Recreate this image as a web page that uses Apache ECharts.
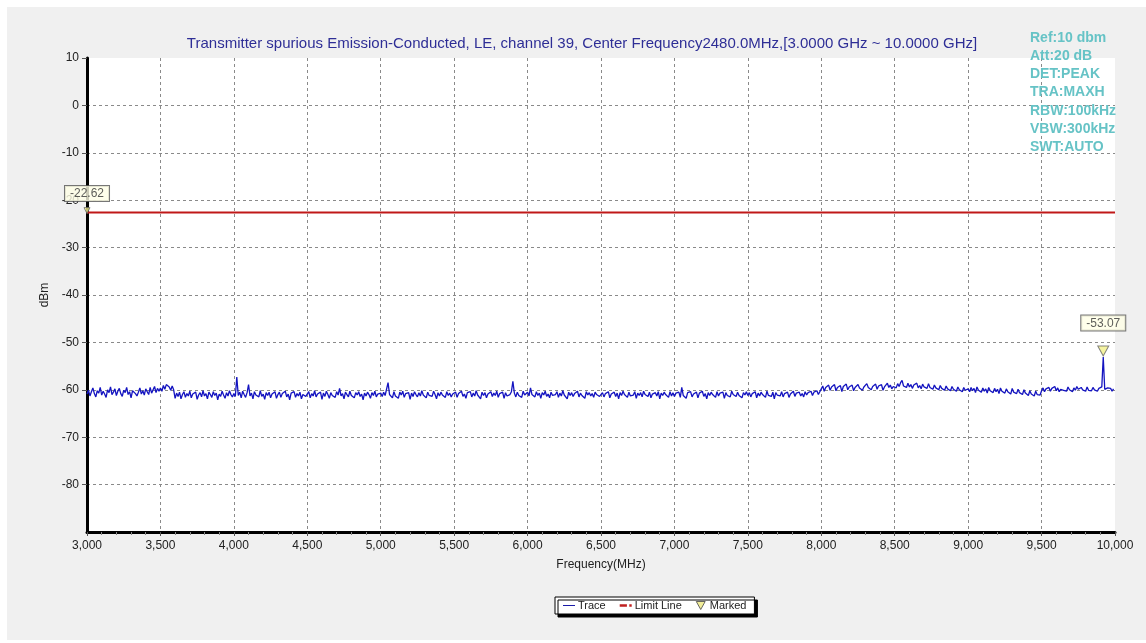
<!DOCTYPE html>
<html>
<head>
<meta charset="utf-8">
<script src="https://cdn.jsdelivr.net/npm/echarts@6/dist/echarts.min.js"></script>
<style>
html,body{margin:0;padding:0;background:#fff;}
#chart{width:1146px;height:643px;}
</style>
</head>
<body>
<div id="chart"></div>
<script>
// ---- data ----
var titleText = 'Transmitter spurious Emission-Conducted, LE, channel 39, Center Frequency2480.0MHz,[3.0000 GHz ~ 10.0000 GHz]';
var infoLines = ['Ref:10 dbm', 'Att:20 dB', 'DET:PEAK', 'TRA:MAXH', 'RBW:100kHz', 'VBW:300kHz', 'SWT:AUTO'];
var rowStarts = [3000, 3500, 4000, 4500, 5000, 5500, 6000, 6500, 7000, 7500, 8000, 8500, 9000, 9500]; // MHz
var freqStep = 10; // MHz between trace samples inside a row
var traceRows = [
  [-60.9,-60.1,-61.3,-60.4,-59.6,-60.8,-61.5,-60.2,-60.7,-59.5,-61.1,-60.3,-60.9,-61.6,-60.0,-60.6,-59.4,-61.0,-60.5,-59.8,-61.2,-60.3,-59.7,-60.8,-61.4,-60.1,-60.6,-59.5,-61.0,-60.4,-61.7,-60.2,-59.9,-60.8,-61.3,-60.5,-59.6,-60.9,-60.2,-61.1,-59.8,-60.4,-61.0,-59.5,-60.7,-60.0,-59.3,-60.6,-59.7,-60.3],
  [-59.6,-60.3,-59.1,-59.9,-58.9,-58.6,-59.4,-60.1,-59.2,-60.0,-61.8,-60.7,-61.4,-60.5,-61.9,-61.0,-60.4,-61.6,-60.8,-61.3,-60.3,-61.7,-60.9,-61.2,-60.5,-62.0,-61.1,-60.6,-61.5,-60.2,-61.3,-60.8,-61.9,-60.5,-61.0,-61.6,-60.4,-61.2,-60.7,-62.1,-60.9,-61.4,-60.3,-61.1,-61.8,-60.6,-61.3,-60.2,-61.0,-61.5],
  [-60.8,-61.4,-57.3,-61.2,-60.5,-61.7,-60.3,-61.0,-61.6,-60.6,-58.9,-61.3,-60.7,-61.9,-60.4,-61.1,-60.8,-61.5,-60.2,-61.4,-60.9,-62.0,-60.6,-61.2,-60.5,-61.7,-60.9,-61.3,-60.4,-61.8,-61.0,-60.5,-61.6,-60.8,-61.2,-60.3,-61.5,-60.9,-62.1,-60.7,-61.1,-60.4,-61.6,-60.8,-61.3,-60.5,-61.9,-61.0,-60.6,-61.4],
  [-61.1,-60.4,-61.7,-60.8,-61.3,-60.2,-61.5,-60.9,-61.2,-60.5,-62.0,-60.7,-61.4,-60.3,-61.0,-61.8,-60.6,-61.2,-60.9,-61.6,-60.4,-61.1,-59.7,-61.3,-60.8,-61.9,-60.5,-61.0,-61.5,-60.3,-61.2,-60.8,-61.7,-60.6,-61.1,-60.4,-61.4,-60.9,-62.1,-60.7,-61.3,-60.5,-61.0,-61.8,-60.6,-61.2,-60.3,-61.5,-60.9,-61.1],
  [-60.7,-61.4,-60.5,-61.2,-60.8,-58.5,-61.0,-60.6,-61.7,-60.4,-61.3,-60.9,-61.8,-60.5,-61.1,-60.3,-61.6,-60.8,-61.2,-60.6,-62.0,-60.7,-61.4,-60.4,-61.0,-61.5,-60.6,-61.3,-60.2,-61.1,-60.9,-61.7,-60.5,-61.2,-60.8,-61.4,-60.3,-61.0,-61.9,-60.6,-61.3,-60.5,-61.1,-60.8,-61.6,-60.4,-61.2,-60.7,-61.5,-60.9],
  [-61.2,-60.5,-61.6,-60.8,-61.1,-60.3,-61.4,-60.9,-61.8,-60.6,-61.0,-60.4,-61.5,-60.7,-61.3,-60.2,-61.1,-60.8,-61.9,-60.5,-61.2,-60.6,-61.7,-60.9,-61.0,-60.4,-61.4,-60.7,-61.2,-60.3,-61.6,-60.8,-61.1,-60.5,-61.8,-60.6,-61.3,-60.9,-61.0,-60.4,-58.2,-60.7,-61.5,-60.5,-61.2,-60.8,-61.6,-60.3,-61.1,-60.7],
  [-60.5,-61.3,-59.6,-61.0,-60.8,-61.5,-60.4,-61.2,-60.7,-61.8,-60.6,-61.1,-60.3,-61.4,-60.9,-61.7,-60.5,-61.2,-60.8,-61.0,-60.4,-61.6,-60.7,-61.3,-60.2,-61.1,-60.9,-61.9,-60.5,-61.2,-60.6,-61.4,-60.8,-61.0,-60.3,-61.5,-60.7,-61.2,-60.9,-61.8,-60.4,-61.1,-60.6,-61.3,-60.8,-61.6,-60.5,-61.0,-60.7,-61.4],
  [-61.0,-60.6,-61.5,-60.8,-61.2,-60.4,-61.7,-60.9,-61.1,-60.5,-61.4,-60.7,-61.9,-60.6,-61.2,-60.3,-61.0,-60.8,-61.6,-60.5,-61.3,-60.9,-61.1,-60.4,-61.8,-60.7,-61.2,-60.6,-61.5,-60.3,-61.0,-60.8,-61.4,-60.5,-61.7,-60.9,-61.1,-60.6,-61.3,-60.4,-61.9,-60.7,-61.2,-60.5,-61.0,-60.8,-61.6,-60.4,-61.3,-60.6],
  [-61.4,-60.7,-61.1,-60.5,-61.6,-59.5,-61.2,-60.8,-61.8,-60.6,-61.0,-60.4,-61.5,-60.9,-61.3,-60.5,-61.7,-60.7,-61.1,-60.3,-61.4,-60.8,-61.9,-60.6,-61.2,-60.5,-61.0,-60.9,-61.6,-60.4,-61.3,-60.7,-61.1,-60.5,-61.8,-60.6,-61.2,-60.8,-61.5,-60.3,-61.0,-60.7,-61.4,-60.5,-61.2,-60.9,-61.7,-60.6,-61.1,-60.4],
  [-61.2,-60.6,-61.5,-60.8,-61.1,-60.4,-61.7,-60.7,-61.3,-60.5,-61.0,-60.9,-61.6,-60.3,-61.2,-60.8,-61.4,-60.5,-61.9,-60.6,-61.1,-60.7,-61.3,-60.4,-61.5,-60.8,-61.0,-60.5,-61.6,-60.9,-61.2,-60.3,-61.4,-60.7,-61.0,-60.5,-61.3,-60.8,-61.5,-60.4,-61.1,-60.6,-60.9,-60.3,-61.2,-60.5,-60.8,-60.2,-61.0,-60.4],
  [-59.8,-59.2,-60.3,-59.5,-59.9,-59.0,-60.1,-59.4,-59.7,-58.9,-60.2,-59.5,-59.8,-59.1,-60.4,-59.3,-59.6,-58.8,-60.0,-59.4,-59.7,-59.0,-60.2,-59.5,-59.9,-58.9,-59.6,-59.2,-60.1,-59.4,-59.8,-58.7,-59.5,-59.1,-60.0,-59.3,-59.7,-58.8,-59.9,-59.2,-59.6,-58.9,-60.1,-59.4,-59.7,-58.6,-59.5,-59.0,-59.8,-59.3],
  [-59.1,-59.6,-58.7,-59.3,-58.5,-58.0,-59.2,-58.8,-59.5,-58.6,-59.4,-58.9,-59.7,-59.0,-59.3,-58.6,-59.6,-59.1,-59.8,-58.8,-59.4,-59.0,-59.7,-58.7,-59.5,-59.2,-59.9,-59.0,-59.6,-59.3,-60.0,-59.1,-59.7,-59.4,-60.1,-59.2,-59.8,-59.5,-60.2,-59.3,-59.9,-59.6,-60.3,-59.4,-60.0,-59.7,-60.4,-59.5,-60.1,-59.8],
  [-59.8,-60.4,-59.5,-60.2,-59.7,-60.6,-59.4,-60.1,-59.9,-60.5,-59.6,-60.3,-59.8,-60.7,-59.5,-60.2,-60.0,-60.6,-59.7,-60.4,-59.9,-60.8,-59.6,-60.3,-60.1,-60.7,-59.8,-60.4,-60.0,-60.9,-59.7,-60.5,-60.2,-60.8,-59.9,-60.6,-60.3,-61.0,-60.0,-60.7,-60.4,-61.2,-60.2,-60.9,-60.5,-61.3,-60.3,-61.0,-60.6,-61.1],
  [-60.2,-59.6,-60.4,-59.8,-60.1,-59.5,-60.3,-59.7,-60.0,-59.3,-60.2,-59.6,-60.4,-59.9,-59.5,-60.1,-59.7,-60.3,-59.4,-60.0,-59.8,-60.4,-59.6,-60.1,-59.3,-59.9,-60.2,-59.5,-60.0,-59.7,-60.3,-59.4,-60.1,-59.8,-60.2,-59.5,-60.0,-59.6,-60.3,-59.7,-60.1,-59.4,-53.07,-59.9,-60.2,-59.6,-60.0,-59.7,-60.3,-59.8]
];
var limitValue = -22.62;
var limitRange = [3000, 10000];
var markerFreqs = [3000, 9920];
var markerValues = [-22.62, -53.07];
var xTicks = {min: 3000, max: 10000, interval: 500};
var yTicks = {min: -90, max: 10, interval: 10};

// ---- build ----
var traceData = [];
traceRows.forEach(function (row, r) {
  row.forEach(function (v, i) { traceData.push([rowStarts[r] + i * freqStep, v]); });
});
var limitData = limitRange.map(function (f) { return [f, limitValue]; });
var markerData = markerFreqs.map(function (f, i) {
  return {
    value: [f, markerValues[i]],
    symbolSize: i === 0 ? [6, 6] : [11, 10],
    symbolOffset: i === 0 ? [0, -2] : [0, -6],
    label: { distance: i === 0 ? 6 : 15 }
  };
});

var FONT = 'Liberation Sans, Arial, sans-serif';
var chart = echarts.init(document.getElementById('chart'));

var graphics = [
  { type: 'rect', z: -10, silent: true, shape: { x: 7, y: 7, width: 1139, height: 633 }, style: { fill: '#f0f0f0' } }
];
infoLines.forEach(function (t, i) {
  graphics.push({
    type: 'text', z: 100, left: 1030, top: 31 + i * 18.2,
    style: { text: t, fill: '#66c3c6', font: 'bold 14px ' + FONT }
  });
});

chart.setOption({
  animation: false,
  backgroundColor: '#ffffff',
  title: {
    text: titleText, left: 577, textAlign: 'center', top: 31,
    textStyle: { color: '#2e2e96', fontSize: 15, fontWeight: 'normal', fontFamily: FONT }
  },
  graphic: graphics,
  grid: {
    left: 87, right: 31, top: 58, bottom: 111,
    show: true, backgroundColor: '#ffffff', borderWidth: 0
  },
  legend: {
    left: 555, top: 597, width: 200,
    padding: [3, 8, 3, 8], itemGap: 14, itemWidth: 12, itemHeight: 8,
    backgroundColor: '#ffffff', borderColor: '#000', borderWidth: 1, borderRadius: 0,
    shadowColor: 'rgba(0,0,0,1)', shadowOffsetX: 3, shadowOffsetY: 3, shadowBlur: 0,
    textStyle: { fontSize: 11, color: '#222', fontFamily: FONT, padding: [0, 0, 0, -2] },
    data: [
      { name: 'Trace', icon: 'path://M0,4H12V5H0Z', itemStyle: { color: '#1a1aa8' } },
      { name: 'Limit Line', icon: 'path://M0,4H6V6H0Z M8,4H10V6H8Z', itemStyle: { color: '#c02020' } },
      { name: 'Marked', icon: 'path://M0,0L10,0L5,9Z', itemStyle: { color: '#eee880', borderColor: '#444', borderWidth: 1 } }
    ]
  },
  xAxis: {
    type: 'value', min: xTicks.min, max: xTicks.max, interval: xTicks.interval,
    name: 'Frequency(MHz)', nameLocation: 'middle', nameGap: 27,
    nameTextStyle: { fontSize: 12, color: '#222', fontFamily: FONT },
    axisLine: { onZero: false, lineStyle: { color: '#000', width: 3 } },
    axisTick: { show: true, length: 4, lineStyle: { color: '#555', width: 1 } },
    minorTick: { show: true, splitNumber: 5, length: 3, lineStyle: { color: '#888' } },
    axisLabel: {
      fontSize: 12, color: '#222', fontFamily: FONT, margin: 8,
      formatter: function (v) { return v.toLocaleString('en-US'); }
    },
    splitLine: { show: true, showMinLine: false, showMaxLine: false, lineStyle: { color: '#8a8a8a', type: [3, 3], width: 1 } }
  },
  yAxis: {
    type: 'value', min: yTicks.min, max: yTicks.max, interval: yTicks.interval,
    name: 'dBm', nameLocation: 'middle', nameGap: 35, nameRotate: 90,
    nameTextStyle: { fontSize: 12, color: '#222', fontFamily: FONT },
    axisLine: { show: true, onZero: false, lineStyle: { color: '#000', width: 3 } },
    axisTick: { show: true, length: 5, lineStyle: { color: '#555', width: 1 } },
    axisLabel: { fontSize: 12, color: '#222', fontFamily: FONT, margin: 8, showMinLabel: false },
    splitLine: { show: true, showMinLine: false, showMaxLine: false, lineStyle: { color: '#8a8a8a', type: [3, 3], width: 1 } }
  },
  series: [
    {
      name: 'Trace', type: 'line', data: traceData, showSymbol: false, symbol: 'none',
      lineStyle: { color: '#1414c0', width: 1.3 }, itemStyle: { color: '#1414c0' }, z: 3
    },
    {
      name: 'Limit Line', type: 'line', data: limitData, showSymbol: false, symbol: 'none',
      lineStyle: { color: '#c01818', width: 2 }, itemStyle: { color: '#c01818' }, z: 2
    },
    {
      name: 'Marked', type: 'scatter', data: markerData, z: 10,
      symbol: 'triangle', symbolRotate: 180,
      itemStyle: { color: '#f2f08a', borderColor: '#666', borderWidth: 1 },
      label: {
        show: true, position: 'top',
        formatter: function (p) { return p.value[1].toFixed(2); },
        backgroundColor: '#ffffe6', borderColor: '#555', borderWidth: 1,
        padding: [2, 5, 1, 5], fontSize: 12, color: '#333', fontFamily: FONT
      }
    }
  ]
});
</script>
</body>
</html>
